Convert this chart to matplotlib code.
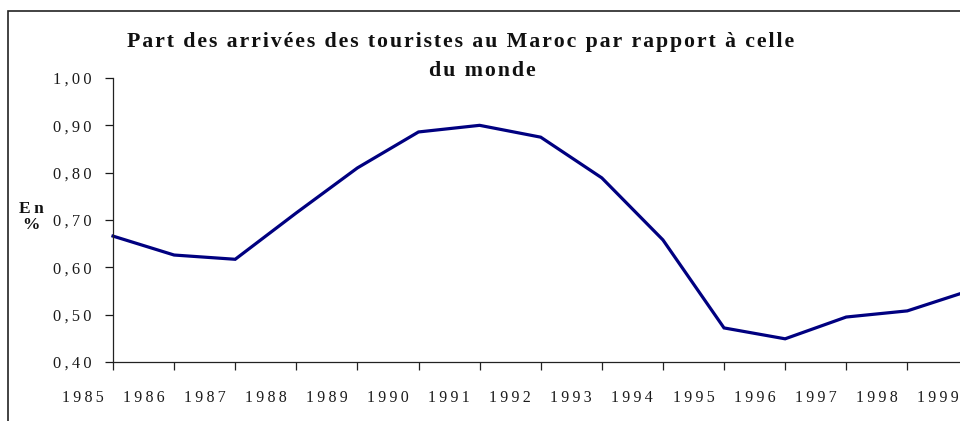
import matplotlib
matplotlib.use("Agg")
import matplotlib.pyplot as plt
from matplotlib.patches import Rectangle
from matplotlib.ticker import FixedLocator, NullFormatter
import numpy as np

years = ["1985", "1986", "1987", "1988", "1989", "1990", "1991", "1992",
         "1993", "1994", "1995", "1996", "1997", "1998", "1999"]
share = [0.666, 0.626, 0.617, 0.715, 0.810, 0.886, 0.900, 0.875,
         0.789, 0.658, 0.472, 0.449, 0.495, 0.508, 0.550]
yticks = [0.40, 0.50, 0.60, 0.70, 0.80, 0.90, 1.00]
title_l1 = "Part des arrivées des touristes au Maroc par rapport à celle"
title_l2 = "du monde"
ylabel = "En\n%"

THIN = "\u2009"
HAIR = "\u200a"


def spaced(s, sep=THIN):
    return "\n".join(sep.join(list(line)) for line in s.split("\n"))


plt.rcParams['font.family'] = ['Liberation Serif', 'DejaVu Serif']

W, H = 960, 421
fig = plt.figure(figsize=(W / 100, H / 100), dpi=100)
ax_left_px, ax_right_px = 60, 960
ax = fig.add_axes([ax_left_px / W, (H - 362) / H, (ax_right_px - ax_left_px) / W, (362 - 78) / H])

step = 61.1
x0 = -(113 - ax_left_px) / step
x1 = (ax_right_px - 113) / step
x = np.arange(len(share))
ax.plot(x, share, color='#000080', lw=2.3, solid_joinstyle='miter')
ax.set_xlim(x0, x1)
ax.set_ylim(0.40, 1.00)

for s in ['top', 'right']:
    ax.spines[s].set_visible(False)
ax.spines['left'].set_position(('data', 0))
ax.spines['bottom'].set_bounds(0, x1)
for s in ['left', 'bottom']:
    ax.spines[s].set_linewidth(0.9)
    ax.spines[s].set_color('#222222')

ax.set_yticks(yticks)
ax.set_yticklabels([spaced(f"{v:.2f}".replace('.', ',')) for v in yticks])
ax.tick_params(axis='y', direction='out', length=6, width=0.9, pad=9.5,
               labelsize=11.8, colors='#1a1a1a')

ax.xaxis.set_major_locator(FixedLocator(list(x)))
ax.xaxis.set_major_formatter(NullFormatter())
ax.xaxis.set_minor_locator(FixedLocator(list(x - 0.5)))
ax.set_xticklabels([spaced(y) for y in years], minor=True)
ax.tick_params(axis='x', which='major', direction='out', length=5.5, width=0.9, colors='#222222')
ax.tick_params(axis='x', which='minor', length=0, pad=20.5, labelsize=11.5, colors='#1a1a1a')

t1 = fig.text(461 / W, 1 - 42 / H, spaced(title_l1, HAIR), ha='center', va='center',
              fontsize=15, fontweight='bold', color='#111111')
# fit the first title line to the reference width (667 px)
renderer = fig.canvas.get_renderer()
for _ in range(4):
    w = t1.get_window_extent(renderer).width
    t1.set_fontsize(t1.get_fontsize() * 667.0 / w)
fs = t1.get_fontsize()
fig.text(482 / W, 1 - 71 / H, spaced(title_l2, HAIR), ha='center', va='center',
         fontsize=fs, fontweight='bold', color='#111111')
fig.text(31 / W, 1 - 217 / H, spaced(ylabel), ha='center', va='center',
         fontsize=12.5, fontweight='bold', color='#111111', linespacing=0.95)

fig.add_artist(Rectangle((7.5 / W, -0.1), 1.2, (H - 11) / H + 0.1,
                         transform=fig.transFigure, fill=False,
                         lw=1.2, edgecolor='#222222'))

fig.savefig("out.png", dpi=100)
